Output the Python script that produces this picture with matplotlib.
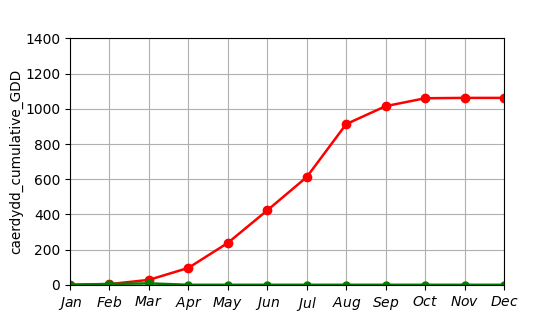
import matplotlib
matplotlib.use('Agg')
import matplotlib.pyplot as plt

months = ['Jan', 'Feb', 'Mar', 'Apr', 'May', 'Jun', 'Jul', 'Aug', 'Sep', 'Oct', 'Nov', 'Dec']
gdd_red = [0, 4, 28, 96, 238, 423, 612, 913, 1015, 1060, 1062, 1062]
gdd_green = [0, 5, 8, 0, 0, 0, 0, 0, 0, 0, 0, 0]

fig, ax = plt.subplots(figsize=(5.6, 3.2), dpi=100)
x = list(range(len(months)))
ax.plot(x, gdd_red, color='red', marker='o', linewidth=1.8, markersize=6)
ax.plot(x, gdd_green, color='green', marker='o', linewidth=1.8, markersize=5)

ax.set_xlim(0, len(months) - 1)
ax.set_ylim(0, 1400)
ax.set_xticks(x)
# labels drawn as mathtext italics
ax.set_xticklabels([r'$\it{%s}$' % m for m in months])
ax.set_ylabel('caerdydd_cumulative_GDD', fontsize=9.8, labelpad=1.5)
ax.grid(True, color='#b0b0b0')
ax.set_axisbelow(True)

fig.savefig('out.png')
